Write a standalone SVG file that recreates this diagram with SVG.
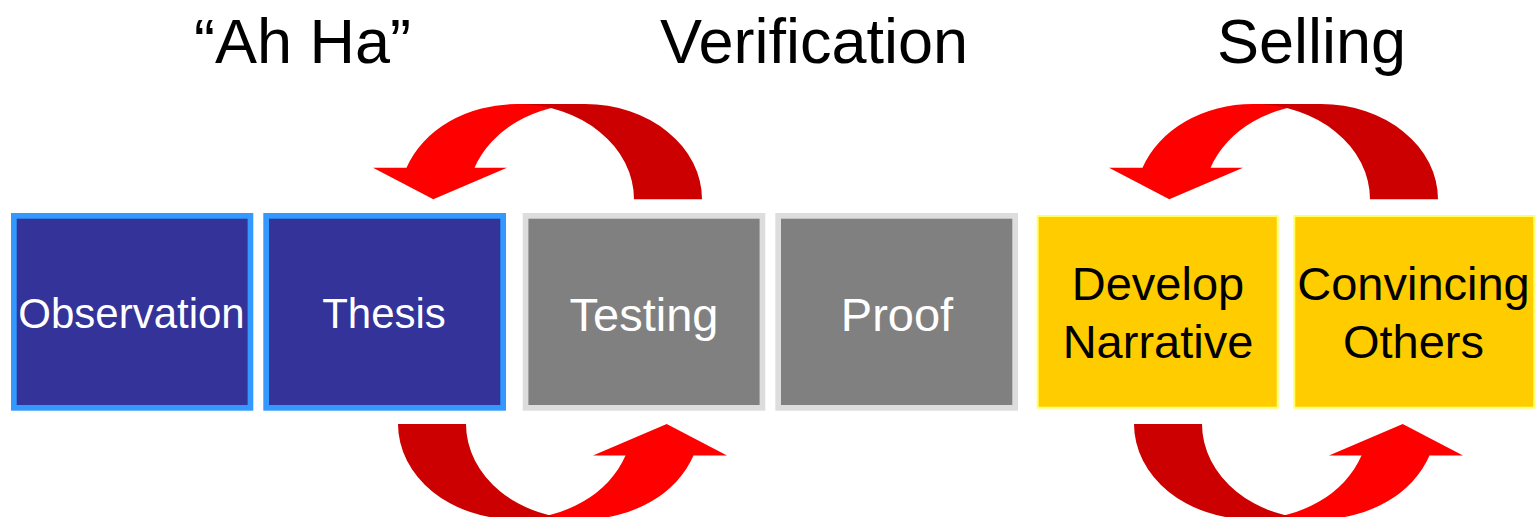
<svg xmlns="http://www.w3.org/2000/svg" xmlns:xlink="http://www.w3.org/1999/xlink" width="1536" height="517" viewBox="0 0 1536 517">
  <style>
    .title { font-family: "Liberation Sans", Arial, sans-serif; font-size: 63px; fill: #000000; text-anchor: middle; }
    .lbl { font-family: "Liberation Sans", Arial, sans-serif; text-anchor: middle; }
    .blue rect { fill: #333399; stroke: #3399FF; stroke-width: 5.7; }
    .blue text { fill: #FFFFFF; font-size: 42px; }
    .grey rect { fill: #808080; stroke: #DDDDDD; stroke-width: 5.7; }
    .grey text { fill: #FFFFFF; font-size: 47px; }
    .gold rect { fill: #FFCC00; stroke: #FFFF66; stroke-width: 2; }
    .gold text { fill: #000000; font-size: 47px; }
    .arrow-front { fill: #FF0000; }
    .arrow-back { fill: #CC0000; }
  </style>
  <defs>
    <!-- curved loop arrow: two elliptical bands (rx 117, ry 95.3) offset by the band width -->
    <g id="loop-arrow">
      <path class="arrow-front" d="M373,167.7 L406.5,167.7 A117,95.3 0 0 1 517,104 L585,104 A117,95.3 0 0 0 474.5,167.7 L507,167.7 L433.3,199.3 Z"/>
      <path class="arrow-back" d="M517,104 L585,104 A117,95.3 0 0 1 702,199.3 L634,199.3 A117,95.3 0 0 0 517,104 Z"/>
    </g>
  </defs>

  <!-- stage headings -->
  <text class="title" x="302.5" y="63.3">“Ah Ha”</text>
  <text class="title" x="814" y="63.3">Verification</text>
  <text class="title" x="1311.5" y="63.3">Selling</text>

  <!-- connectors -->
  <g id="connectors">
    <use xlink:href="#loop-arrow" href="#loop-arrow"/>
    <use xlink:href="#loop-arrow" href="#loop-arrow" transform="translate(736,0)"/>
    <use xlink:href="#loop-arrow" href="#loop-arrow" transform="translate(1100,623.3) scale(-1,-1)"/>
    <use xlink:href="#loop-arrow" href="#loop-arrow" transform="translate(1836,623.3) scale(-1,-1)"/>
  </g>

  <!-- nodes -->
  <g id="observation" class="blue">
    <rect x="13.85" y="215.85" width="236.6" height="192"/>
    <text class="lbl" x="131.5" y="328.3">Observation</text>
  </g>
  <g id="thesis" class="blue">
    <rect x="266.15" y="215.85" width="237" height="192"/>
    <text class="lbl" x="384" y="328.3">Thesis</text>
  </g>
  <g id="testing" class="grey">
    <rect x="525.55" y="215.85" width="236.9" height="192"/>
    <text class="lbl" x="644" y="330.7">Testing</text>
  </g>
  <g id="proof" class="grey">
    <rect x="778.15" y="215.85" width="237" height="192"/>
    <text class="lbl" x="897" y="330.7">Proof</text>
  </g>
  <g id="develop-narrative" class="gold">
    <rect x="1037.7" y="216" width="240" height="191.7"/>
    <text class="lbl" x="1158" y="300">Develop</text>
    <text class="lbl" x="1158" y="358.3">Narrative</text>
  </g>
  <g id="convincing-others" class="gold">
    <rect x="1294.3" y="216" width="240" height="191.7"/>
    <text class="lbl" x="1413.5" y="300">Convincing</text>
    <text class="lbl" x="1413.5" y="358.3">Others</text>
  </g>
</svg>
